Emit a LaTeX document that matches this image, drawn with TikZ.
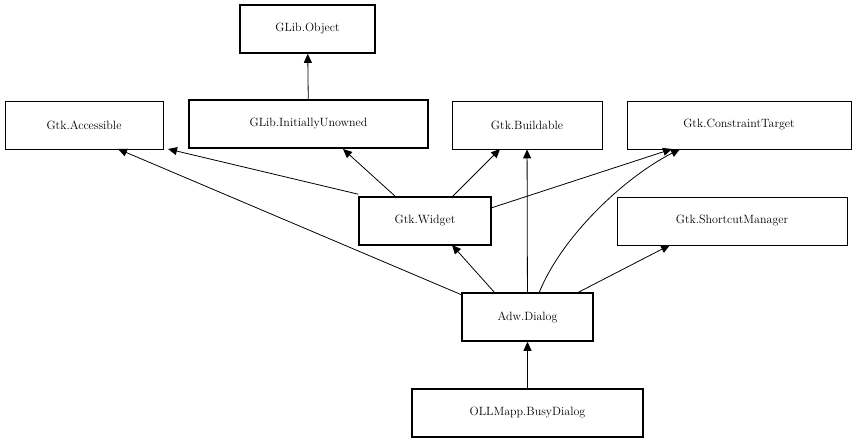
\documentclass[tikz,border=0pt]{standalone}
\usetikzlibrary{arrows.meta}
\begin{document}
\begin{tikzpicture}[x=1pt,y=-1pt,
 box/.style={draw,line width=0.8pt,minimum height=48pt,inner sep=0pt,font=\fontsize{12}{14}\selectfont},
 tbox/.style={box,line width=1.6pt},
 arr/.style={-{Triangle[width=8pt,length=9pt]},line width=0.8pt}]
\useasboundingbox (0,0) rectangle (859,443);
\node[tbox,minimum width=135pt] (obj) at (307.5,29) {GLib.Object};
\node[box,minimum width=158pt] (acc) at (84,125) {Gtk.Accessible};
\node[tbox,minimum width=239pt] (iu) at (308.5,124) {GLib.InitiallyUnowned};
\node[box,minimum width=150pt] (bld) at (527,125) {Gtk.Buildable};
\node[box,minimum width=224pt] (ct) at (739,125) {Gtk.ConstraintTarget};
\node[tbox,minimum width=132pt] (wid) at (425,221) {Gtk.Widget};
\node[box,minimum width=230pt] (sm) at (732,221) {Gtk.ShortcutManager};
\node[tbox,minimum width=131pt] (dlg) at (527.5,317) {Adw.Dialog};
\node[tbox,minimum width=231pt] (busy) at (527.5,413) {OLLMapp.BusyDialog};
\draw[arr] (iu) -- (obj);
\draw[arr] (wid.north west) ++(0,-2) -- (168,149);
\draw[arr] (396,197) -- (343,149);
\draw[arr] (452,197) -- (500,149);
\draw[arr] (491,208) -- (672,149);
\draw[arr] (462,295) -- (118,149);
\draw[arr] (495,293) -- (452,245);
\draw[arr] (dlg) -- (bld);
\draw[arr] (539,293) .. controls (560,240) and (620,180) .. (680,149);
\draw[arr] (577,293) -- (670,245);
\draw[arr] (busy) -- (dlg);
\end{tikzpicture}
\end{document}
